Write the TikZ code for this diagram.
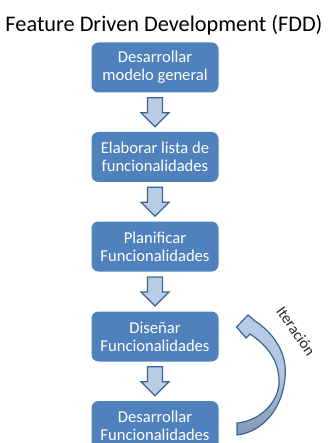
\documentclass[tikz,border=0pt]{standalone}
\usepackage{fontspec}
\setmainfont{Carlito}
\definecolor{boxblue}{HTML}{4F81BD}
\definecolor{arrfill}{HTML}{B9CDE5}
\definecolor{arrdraw}{HTML}{3B6496}
\definecolor{arrdark}{HTML}{8197B6}
\tikzset{
  stepbox/.style={fill=boxblue, rounded corners=7pt, minimum width=127pt, minimum height=50pt,
    text=white, align=center, font=\fontsize{16.6}{18}\selectfont, inner sep=0pt},
  blockarrow/.style={fill=arrfill, draw=arrdraw, line width=1.2pt, line join=miter},
  darrow/.pic={\draw[blockarrow] (-7.5,-14.5) -- (7.5,-14.5) -- (7.5,0.5) -- (14,0.5) -- (0,14.5) -- (-14,0.5) -- (-7.5,0.5) -- cycle;}
}
\begin{document}
\begin{tikzpicture}[x=1pt,y=-1pt]
\useasboundingbox (0,0) rectangle (328,443);
\clip (0,0) rectangle (328,443);
\node[font=\fontsize{22.3}{26}\selectfont, anchor=base] (title) at (164,31.7) {Feature Driven Development (FDD)};
\node[stepbox] (b1) at (155,67.5) {Desarrollar\\modelo general};
\node[stepbox] (b2) at (155,157) {Elaborar lista de\\funcionalidades};
\node[stepbox] (b3) at (155,246.5) {Planificar\\Funcionalidades};
\node[stepbox] (b4) at (155,336.5) {Diseñar\\Funcionalidades};
\node[stepbox] (b5) at (155,426) {Desarrollar\\Funcionalidades};
\path (b1.south) -- (b2.north) coordinate[midway] (m1);
\path (b2.south) -- (b3.north) coordinate[midway] (m2);
\path (b3.south) -- (b4.north) coordinate[midway] (m3);
\path (b4.south) -- (b5.north) coordinate[midway] (m4);
\foreach \m in {m1,m2,m3,m4} \pic at (\m) {darrow};
% curved iteration arrow
\shade[top color=arrfill, bottom color=arrdark, middle color=arrfill!85!arrdark, shading angle=0]
 (237,435) .. controls (262,432) and (282,410) .. (285,378)
 .. controls (288,352) and (272,332) .. (255,321) -- (248,315) -- (236.5,327) -- (246,338) -- (250,334)
 .. controls (268,346) and (280,362) .. (279,384)
 .. controls (277,405) and (258,421) .. (237,423) -- cycle;
\draw[draw=arrdraw, line width=1.2pt, line join=miter]
 (237,435) .. controls (262,432) and (282,410) .. (285,378)
 .. controls (288,352) and (272,332) .. (255,321) -- (248,315) -- (236.5,327) -- (246,338) -- (250,334)
 .. controls (268,346) and (280,362) .. (279,384)
 .. controls (277,405) and (258,421) .. (237,423) -- cycle;
\node[rotate=-55, font=\fontsize{15.5}{18}\selectfont, text=black!85] (iter) at (296,331) {Iteración};
\end{tikzpicture}
\end{document}
